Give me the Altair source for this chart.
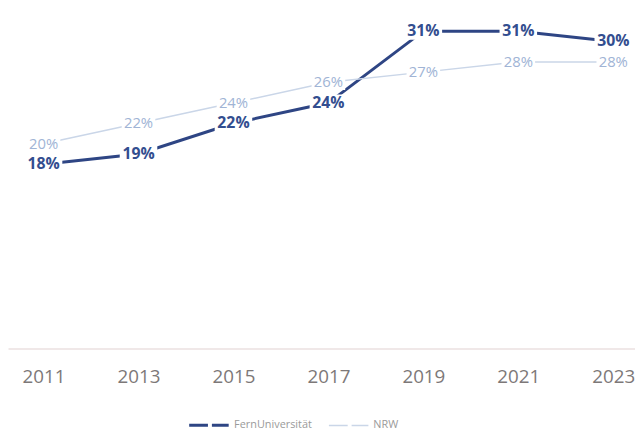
import altair as alt
import pandas as pd

years = [2011, 2013, 2015, 2017, 2019, 2021, 2023]
fern = [18, 19, 22, 24, 31, 31, 30]
nrw = [20, 22, 24, 26, 27, 28, 28]
series_names = ["FernUniversität", "NRW"]

rows = []
for y, v in zip(years, fern):
    rows.append({"year": y, "value": v, "series": series_names[0], "label": f"{v}%"})
for y, v in zip(years, nrw):
    rows.append({"year": y, "value": v, "series": series_names[1], "label": f"{v}%"})
df = pd.DataFrame(rows)

FERN_LINE = "#2e4584"
FERN_TEXT = "#334e8f"
NRW_LINE = "#cad6e8"
NRW_TEXT = "#a0b4d5"
FONT = "Open Sans"

x = alt.X("year:Q",
          scale=alt.Scale(domain=[2010.251, 2023.458], nice=False, zero=False),
          axis=alt.Axis(values=years, format="d", title=None, ticks=False, grid=False,
                        domainColor="#ebe1e1", domainWidth=1.5, labelFontSize=19,
                        labelColor="#7d7878", labelFont=FONT, labelPadding=20,
                        labelFlush=False))
y = alt.Y("value:Q", scale=alt.Scale(domain=[0, 33.0], nice=False), axis=None)

base = alt.Chart(df)

lines = base.mark_line().encode(
    x=x, y=y,
    color=alt.Color("series:N",
                    scale=alt.Scale(domain=series_names, range=[FERN_LINE, NRW_LINE]),
                    legend=alt.Legend(title=None, orient="none", legendX=182, legendY=398,
                                      direction="horizontal", symbolType="stroke",
                                      symbolSize=1600, symbolStrokeWidth=3,
                                      symbolDash=[19, 4], labelFont=FONT,
                                      labelFontSize=11, labelColor="#9a9a9a",
                                      columnPadding=14)),
    strokeWidth=alt.StrokeWidth("series:N",
                                scale=alt.Scale(domain=series_names, range=[3, 1.5]),
                                legend=None),
    order=alt.Order("series:N", sort="descending"),
)

def labels(name, color, weight, size, half_w, aspect):
    sub = base.transform_filter(alt.datum.series == name)
    shape = f"M-1,-{aspect}L1,-{aspect}L1,{aspect}L-1,{aspect}Z"
    bg = sub.mark_point(shape=shape, filled=True, color="white", opacity=1,
                        size=(2 * half_w) ** 2).encode(x=x, y=y)
    txt = sub.mark_text(font=FONT, fontSize=size, fontWeight=weight, color=color).encode(
        x=x, y=y, text="label:N")
    return bg + txt

chart = alt.layer(
    lines,
    labels("NRW", NRW_TEXT, "normal", 15, 17, 0.45),
    labels("FernUniversität", FERN_TEXT, "bold", 16, 19, 0.45),
).properties(
    width=635, height=342,
    autosize=alt.AutoSizeParams(type="none"),
    padding={"left": 0, "top": 0, "right": 0, "bottom": 90},
    background="white",
).configure_view(stroke=None)

chart.save("out.html", embed_options={"renderer": "svg", "actions": False})
